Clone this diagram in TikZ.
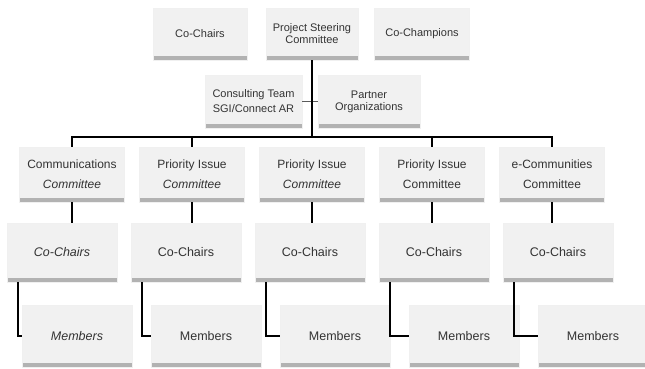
\documentclass[tikz,border=0pt]{standalone}
\usepackage{fontspec}
\setmainfont{Liberation Sans}
\definecolor{boxfill}{HTML}{F1F1F1}
\definecolor{barfill}{HTML}{B2B2B2}
\definecolor{tiecol}{HTML}{5A5A5A}
\tikzset{
  unit/.style={fill=boxfill, draw=gray!12, inner sep=0pt, align=center, text=black!80,
    path picture={\fill[barfill] ([yshift=4.5pt]path picture bounding box.south west)
      rectangle (path picture bounding box.south east);}},
  toprow/.style={unit, font=\fontsize{11}{12}\selectfont},
  comrow/.style={unit, minimum width=105pt, minimum height=55pt, font=\fontsize{12}{20}\selectfont},
  lowrow/.style={unit, minimum width=110pt, font=\fontsize{12.5}{15}\selectfont},
  link/.style={line width=2.4pt, black},
}
\begin{document}
\begin{tikzpicture}[x=1pt,y=-1pt]
  % rows (y of centres, pixels from top)
  \def\yT{34}     % top row
  \def\yM{101.5}  % consultants
  \def\yB{137}    % bus
  \def\yC{174.5}  % committees
  \def\yK{252.5}  % co-chairs
  \def\yN{336}    % members
  \useasboundingbox (0,0) rectangle (645,368);

  % top: Co-Chairs | Project Steering Committee | Co-Champions
  \node[toprow, minimum width=94pt, minimum height=52pt] (chairs) at (200,\yT) {Co-Chairs};
  \node[toprow, minimum width=92pt, minimum height=52pt] (psc) at (312,\yT) {Project Steering\\Committee};
  \node[toprow, minimum width=95pt, minimum height=52pt] (champ) at (422,\yT) {Co-Champions};

  % consulting team and partners
  \node[toprow, minimum width=97pt, minimum height=53pt, font=\fontsize{11}{15}\selectfont] (consult) at (253.5,\yM) {Consulting Team\\SGI/Connect AR};
  \node[toprow, minimum width=102pt, minimum height=53pt] (partner) at (369,\yM) {Partner\\Organizations};
  \coordinate (bus) at (312,\yB);

  % committees
  \node[comrow] (com1) at (72,\yC) {Communications\\\textit{Committee}};
  \node[comrow] (com2) at (192,\yC) {Priority Issue\\\textit{Committee}};
  \node[comrow] (com3) at (312,\yC) {Priority Issue\\\textit{Committee}};
  \node[comrow] (com4) at (432,\yC) {Priority Issue\\Committee};
  \node[comrow] (com5) at (552,\yC) {e-Communities\\Committee};

  % co-chairs
  \node[lowrow, minimum height=59pt] (cc1) at (62,\yK) {\textit{Co-Chairs}};
  \node[lowrow, minimum height=59pt] (cc2) at (186,\yK) {Co-Chairs};
  \node[lowrow, minimum height=59pt] (cc3) at (310,\yK) {Co-Chairs};
  \node[lowrow, minimum height=59pt] (cc4) at (434,\yK) {Co-Chairs};
  \node[lowrow, minimum height=59pt] (cc5) at (558,\yK) {Co-Chairs};

  % members
  \node[lowrow, minimum height=62pt] (mem1) at (77,\yN) {\textit{Members}};
  \node[lowrow, minimum height=62pt] (mem2) at (206,\yN) {Members};
  \node[lowrow, minimum height=62pt] (mem3) at (335,\yN) {Members};
  \node[lowrow, minimum height=62pt] (mem4) at (464,\yN) {Members};
  \node[lowrow, minimum height=62pt] (mem5) at (593,\yN) {Members};

  % connectors
  \draw[tiecol, line width=1.6pt] (consult.east) -- (partner.west);
  \draw[link] (psc.south) -- (bus);
  \draw[link] (com1.north) |- (bus) -| (com5.north);
  \draw[link] (com2.north) -- (com2.north |- bus);
  \draw[link] (com4.north) -- (com4.north |- bus);

  \draw[link] (com1.south) -- (com1.south |- cc1.north);
  \draw[link] (com2.south) -- (com2.south |- cc2.north);
  \draw[link] (com3.south) -- (com3.south |- cc3.north);
  \draw[link] (com4.south) -- (com4.south |- cc4.north);
  \draw[link] (com5.south) -- (com5.south |- cc5.north);

  \draw[link] ([xshift=11pt]cc1.south west) |- (mem1.west);
  \draw[link] ([xshift=11pt]cc2.south west) |- (mem2.west);
  \draw[link] ([xshift=11pt]cc3.south west) |- (mem3.west);
  \draw[link] ([xshift=11pt]cc4.south west) |- (mem4.west);
  \draw[link] ([xshift=11pt]cc5.south west) |- (mem5.west);
\end{tikzpicture}
\end{document}
